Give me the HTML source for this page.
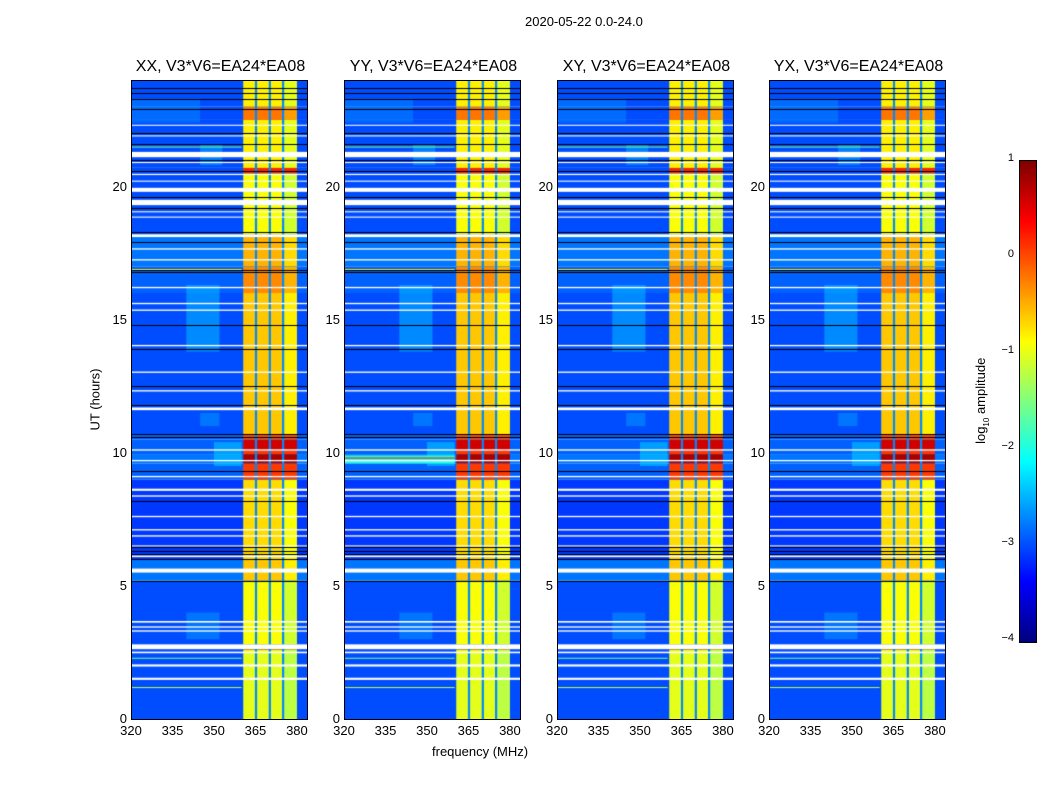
<!DOCTYPE html>
<html><head><meta charset="utf-8">
<style>
body{margin:0;background:#fff;width:1050px;height:800px;position:relative;overflow:hidden;font-family:"Liberation Sans",sans-serif;}
.t{position:absolute;white-space:nowrap;color:#000;}
canvas{position:absolute;}
.frame{position:absolute;border:1px solid #000;box-sizing:border-box;pointer-events:none;}
</style></head><body>
<div class="t" style="left:525px;top:14px;font-size:13px;">2020-05-22 0.0-24.0</div>
<div class="t" style="left:432px;top:744px;font-size:13px;">frequency (MHz)</div>
<div class="t" style="left:50px;top:392px;font-size:13px;transform:rotate(-90deg);transform-origin:center;width:90px;text-align:center;">UT (hours)</div>
<canvas id="cb" width="16" height="481" style="left:1019px;top:160px;border:1px solid #000;box-sizing:border-box;"></canvas>
<div class="t" style="left:932px;top:392px;font-size:13px;transform:rotate(-90deg);width:100px;text-align:center;">log<sub style="font-size:8px">10</sub> amplitude</div>
<script>
// ---- data ----
const panelTitles = ["XX, V3*V6=EA24*EA08","YY, V3*V6=EA24*EA08","XY, V3*V6=EA24*EA08","YX, V3*V6=EA24*EA08"];
const xTicks = [320,335,350,365,380];
const yTicks = [0,5,10,15,20];
const cbTicks = [1,0,-1,-2,-3,-4];
const channels = [[360.6,364.8],[365.6,369.8],[370.6,374.6],[375.4,380.0]];
// [tStart, tEnd, backgroundLevel, bandLevel]
const timeSegments = [
 [0,2.6,-3.0,-1.0],[2.6,2.8,-3.0,-0.3],[2.8,5.2,-3.0,-0.9],[5.2,6.0,-2.8,-0.6],
 [6.0,9.0,-3.1,-0.7],[9.0,9.6,-2.9,0.1],[9.6,9.95,-2.8,0.8],[9.95,10.1,-2.9,0.1],
 [10.1,10.5,-2.9,0.6],[10.5,10.7,-2.9,0.0],[10.7,16.0,-3.0,-0.6],[16.0,17.0,-2.9,-0.3],
 [17.0,18.2,-2.8,-0.5],[18.2,20.5,-3.0,-0.9],[20.5,20.7,-3.0,0.2],[20.7,22.5,-3.0,-0.8],
 [22.5,23.0,-3.0,-0.2],[23.0,24.0,-3.0,-0.8]
];
const whiteGaps = [[1.47,1.55],[1.97,2.05],[2.47,2.53],[2.63,2.8],[3.28,3.33],[3.43,3.48],[3.62,3.68],
 [5.5,5.65],[6.08,6.14],[6.48,6.52],[6.85,6.9],[7.08,7.13],[7.58,7.63],[8.35,8.4],[8.57,8.65],[9.08,9.13],
 [9.68,9.73],[10.08,10.13],[11.6,11.7],[12.3,12.35],[13.0,13.05],[14.0,14.05],[15.33,15.38],[15.58,15.63],
 [16.18,16.23],[17.22,17.27],[17.63,17.68],[18.1,18.2],[18.83,18.87],[19.03,19.07],[19.3,19.5],[19.8,19.95],
 [20.18,20.22],[20.43,20.47],[20.88,20.92],[21.1,21.3],[21.88,21.92],[22.28,22.32]];
const blackLines = [5.2,6.0,6.2,6.3,6.45,8.2,9.3,10.6,10.7,11.8,12.5,13.9,14.8,16.8,16.85,17.9,18.3,
 19.2,19.6,20.6,21.0,21.6,22.0,22.9,23.3,23.5,23.7];
// cyan blobs: [f0,f1,t0,t1,level]
const blobs = [[340,352,13.8,16.3,-2.4],[345,353,20.8,21.6,-2.5],[350,360,9.5,10.4,-2.3],
 [340,352,3.0,4.0,-2.6],[320,345,22.4,23.3,-2.7],[345,352,11.0,11.5,-2.6]];
// tones along lines: [t, level]
const lineTones = [[1.2,-1.2],[2.3,-1.5],[16.9,-0.8],[21.5,-1.6]];
const fMin=320,fMax=384,tMin=0,tMax=24;
const panelX=[131,344,557,769], panelW=177, panelY=80, panelH=639;

function jet(v){
  let t=(v+4)/5; t=Math.max(0,Math.min(1,t));
  const c=x=>Math.round(255*Math.max(0,Math.min(1,x)));
  return `rgb(${c(1.5-Math.abs(4*t-3))},${c(1.5-Math.abs(4*t-2))},${c(1.5-Math.abs(4*t-1))})`;
}
function txt(name,s,x,y,size,align,w){
  const d=document.createElement('div');d.className='t';
  
  
  d.textContent=s;d.style.fontSize=size+'px';d.style.top=y+'px';
  w=w||100;
  if(align==='c'){d.style.left=(x-w/2)+'px';d.style.width=w+'px';d.style.textAlign='center';}
  else if(align==='r'){d.style.left=(x-60)+'px';d.style.width='60px';d.style.textAlign='right';}
  else d.style.left=x+'px';
  document.body.appendChild(d);
}
panelTitles.forEach((title,p)=>{
  const X0=panelX[p];
  const sx=f=>(f-fMin)/(fMax-fMin)*panelW;
  const sy=t=>panelH-(t-tMin)/(tMax-tMin)*panelH;
  const cv=document.createElement('canvas');
  cv.width=panelW;cv.height=panelH;cv.style.left=X0+'px';cv.style.top=panelY+'px';
  
  
  document.body.appendChild(cv);
  const g=cv.getContext('2d');
  timeSegments.forEach(s=>{
    const y0=sy(s[1]),y1=sy(s[0]);
    g.fillStyle=jet(s[2]);g.fillRect(0,y0,panelW,y1-y0);
    g.fillStyle=jet(-2.7);g.fillRect(sx(channels[0][0]),y0,sx(channels[3][1])-sx(channels[0][0]),y1-y0);
    channels.forEach((c,i)=>{g.fillStyle=jet(s[3]-(i===3&&s[3]<0?0.2:0));g.fillRect(sx(c[0]),y0,sx(c[1])-sx(c[0]),y1-y0);});
  });
  blobs.forEach(b=>{g.fillStyle=jet(b[4]);g.globalAlpha=0.5;g.fillRect(sx(b[0]),sy(b[3]),sx(b[1])-sx(b[0]),sy(b[2])-sy(b[3]));g.globalAlpha=1;});
  if(p===1){g.fillStyle=jet(-2.0);g.fillRect(0,sy(9.9),sx(360),sy(9.6)-sy(9.9));g.fillStyle=jet(0.3);g.fillRect(0,sy(9.82),sx(360),1);}
  lineTones.forEach(l=>{g.fillStyle=jet(l[1]);g.fillRect(0,sy(l[0]),sx(360),1);});
  whiteGaps.forEach(w=>{g.fillStyle='#fff';g.fillRect(0,sy(w[1]),panelW,Math.max(1,sy(w[0])-sy(w[1])));});
  blackLines.forEach(b=>{g.fillStyle='#000';g.fillRect(0,Math.round(sy(b)),panelW,1);});
  const fr=document.createElement('div');fr.className='frame';
  
  
  fr.style.cssText=`left:${X0}px;top:${panelY}px;width:${panelW}px;height:${panelH+1}px`;
  document.body.appendChild(fr);
  txt('panel-title', title, X0+panelW/2+1, 58, 16, 'c', 220);
  xTicks.forEach(f=>txt('x-tick-label', String(f), X0+sx(f), 723, 13, 'c'));
  yTicks.forEach(t=>txt('y-tick-label', String(t), X0-4, panelY+sy(t)-8, 13, 'r'));
});
const cb=document.getElementById('cb').getContext('2d');
for(let y=0;y<481;y++){cb.fillStyle=jet(1-5*y/480);cb.fillRect(0,y,16,1);}
cbTicks.forEach(v=>txt('colorbar-tick-label', String(v).replace('-','\u2212'), 1014, 160+(1-v)/5*480-8, 11, 'r'));
</script>
</body></html>
